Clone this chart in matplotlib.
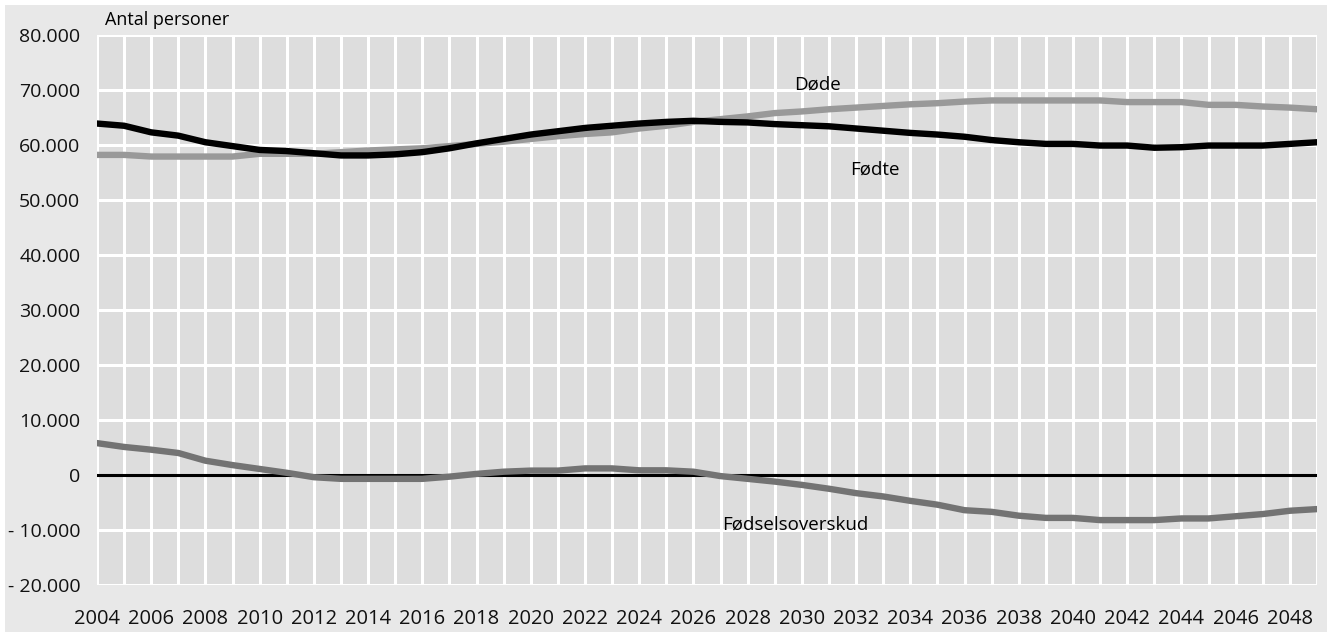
import matplotlib
matplotlib.use("Agg")
import matplotlib.pyplot as plt
import numpy as np

# ── Data ───────────────────────────────────────────────────────────────────────
years = np.arange(2004, 2050)

fodte = [63.9, 63.5, 62.3, 61.7, 60.5, 59.8, 59.1, 58.9, 58.5, 58.1,
         58.1, 58.3, 58.7, 59.4, 60.3, 61.1, 61.9, 62.5, 63.1, 63.5,
         63.9, 64.2, 64.4, 64.2, 64.1, 63.8, 63.6, 63.4, 63.0, 62.6,
         62.2, 61.9, 61.5, 60.9, 60.5, 60.2, 60.2, 59.9, 59.9, 59.5,
         59.6, 59.9, 59.9, 59.9, 60.2, 60.5]

dode = [58.2, 58.2, 57.9, 57.9, 57.9, 57.9, 58.4, 58.4, 58.4, 58.7,
        59.0, 59.2, 59.4, 59.8, 60.2, 60.6, 61.1, 61.6, 62.0, 62.3,
        63.0, 63.5, 64.2, 64.7, 65.2, 65.8, 66.1, 66.5, 66.8, 67.1,
        67.4, 67.6, 67.9, 68.1, 68.1, 68.1, 68.1, 68.1, 67.8, 67.8,
        67.8, 67.3, 67.3, 67.0, 66.8, 66.5]

overskud = [5.8, 5.1, 4.6, 4.0, 2.6, 1.8, 1.1, 0.4, -0.4, -0.7,
            -0.7, -0.7, -0.7, -0.3, 0.2, 0.6, 0.8, 0.8, 1.2, 1.2,
            0.85, 0.85, 0.6, -0.2, -0.7, -1.2, -1.8, -2.5, -3.3, -3.9,
            -4.7, -5.4, -6.4, -6.7, -7.4, -7.8, -7.8, -8.2, -8.2, -8.2,
            -7.9, -7.9, -7.5, -7.1, -6.5, -6.2]

fodte = np.array(fodte) * 1000
dode = np.array(dode) * 1000
overskud = np.array(overskud) * 1000

xtick_years = np.arange(2004, 2049, 2)
yticks = np.arange(-20000, 80001, 10000)

plt.rcParams["font.family"] = ["Liberation Sans Narrow", "Open Sans", "DejaVu Sans"]

BG_OUT = "#e8e8e8"
BG_AX = "#dddddd"

fig = plt.figure(figsize=(13.34, 6.32), dpi=100)
fig.patch.set_facecolor("white")

# outer grey panel (behind everything)
bg = fig.add_axes([5 / 1334, 0, 1322 / 1334, 627 / 632], zorder=-10)
bg.set_facecolor(BG_OUT)
bg.set_xticks([])
bg.set_yticks([])
for s in bg.spines.values():
    s.set_visible(False)

ax = fig.add_axes([97 / 1334, 1 - 585 / 632, 1220 / 1334, 550 / 632], zorder=1)
ax.set_facecolor(BG_AX)

# grid
for yr in years:
    ax.axvline(yr, color="white", lw=2.2, zorder=1)
for yv in yticks:
    if yv != 0:
        ax.axhline(yv, color="white", lw=2.2, zorder=1)
ax.axhline(0, color="black", lw=2.2, zorder=2)

# lines
ax.plot(years, dode, color="#999999", lw=4.6, solid_capstyle="round", zorder=3)
ax.plot(years, fodte, color="black", lw=4.6, solid_capstyle="round", zorder=4)
ax.plot(years, overskud, color="#737373", lw=4.6, solid_capstyle="round", zorder=3)

ax.set_xlim(2004, 2049)
ax.set_ylim(-20000, 80000)
ax.set_xticks(xtick_years)
ax.set_xticklabels([str(y) for y in xtick_years], fontsize=14.5, color="#111111")
ax.set_yticks(yticks)
ax.set_yticklabels([("- " if v < 0 else "") + f"{abs(v):,}".replace(",", ".")
                    for v in yticks], fontsize=14, color="#111111")
ax.tick_params(axis="y", length=0, pad=12)
ax.tick_params(axis="x", length=0, pad=17)
for s in ax.spines.values():
    s.set_visible(False)

# labels
ax.text(2030.56, 70900, "Døde", fontsize=13.5, ha="center", va="center", zorder=5)
ax.text(2032.7, 55600, "Fødte", fontsize=13.5, ha="center", va="center", zorder=5)
ax.text(2029.75, -9100, "Fødselsoverskud", fontsize=13.5, ha="center", va="center", zorder=5)
fig.text(105 / 1334, 1 - 20 / 632, "Antal personer", fontsize=13,
         ha="left", va="center")

fig.savefig("out.png", dpi=100, facecolor="white")
plt.close(fig)
